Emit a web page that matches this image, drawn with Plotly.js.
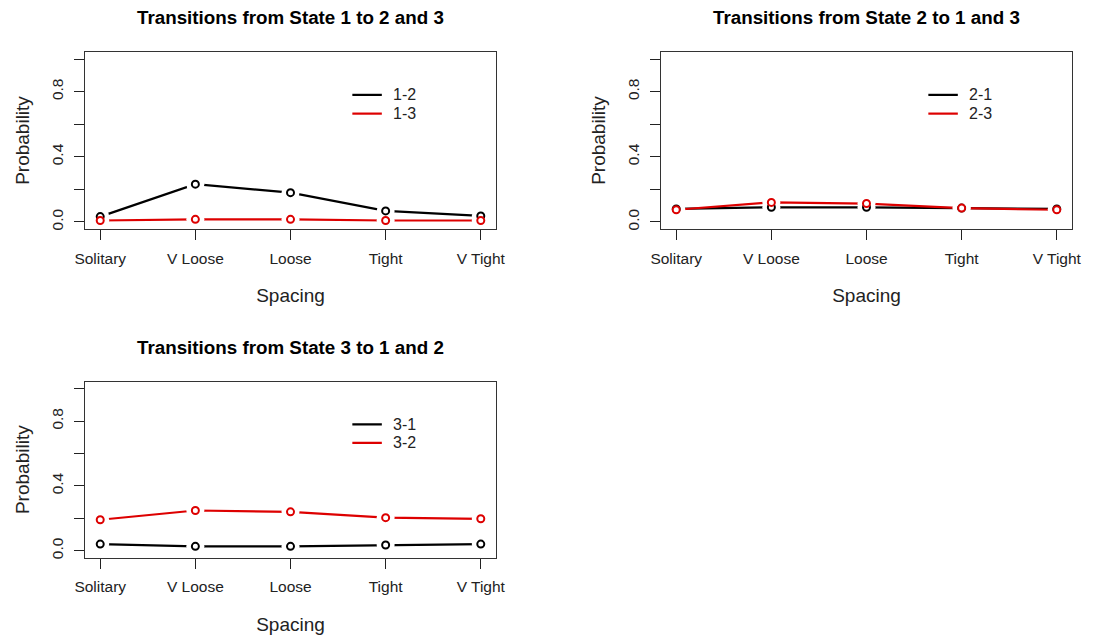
<!DOCTYPE html>
<html>
<head>
<meta charset="utf-8">
<script src="https://cdn.plot.ly/plotly-3.0.1.min.js"></script>
<style>html,body{margin:0;padding:0;background:#fff;}#plot{width:1097px;height:635px;}</style>
</head>
<body>
<div id="plot"></div>
<script>
// ---- data ----
const spacing = ["Solitary", "V Loose", "Loose", "Tight", "V Tight"];
const xIdx = [1, 2, 3, 4, 5];

const titles = ["Transitions from State 1 to 2 and 3",
                "Transitions from State 2 to 1 and 3",
                "Transitions from State 3 to 1 and 2"];

const p12 = [0.033, 0.232, 0.180, 0.068, 0.037];
const p13 = [0.009, 0.016, 0.016, 0.009, 0.009];
const p21 = [0.080, 0.090, 0.090, 0.085, 0.080];
const p23 = [0.075, 0.120, 0.113, 0.085, 0.075];
const p31 = [0.041, 0.027, 0.027, 0.035, 0.041];
const p32 = [0.191, 0.248, 0.240, 0.204, 0.197];

const seriesNames = [["1-2", "1-3"], ["2-1", "2-3"], ["3-1", "3-2"]];
const seriesVals = [[p12, p13], [p21, p23], [p31, p32]];

const yTickVals = [0, 0.2, 0.4, 0.6, 0.8, 1.0];
const yTickText = ["0.0", "", "0.4", "", "0.8", ""];

// ---- styling ----
const colors = ["#000000", "#dd0000"];
const font = "Liberation Sans, Arial, sans-serif";
const xRange = [0.84, 5.16];
const yRange = [-0.0432, 1.0432];
const panels = [
  {xd: [85/1097, 496/1097], yd: [1-229/635, 1-52/635]},
  {xd: [661/1097, 1072/1097], yd: [1-229/635, 1-52/635]},
  {xd: [85/1097, 496/1097], yd: [1-557.7/635, 1-381.7/635]}
];

const traces = [];
const layout = {
  width: 1097, height: 635,
  margin: {l: 0, r: 0, t: 0, b: 0},
  paper_bgcolor: "#fff", plot_bgcolor: "#fff",
  showlegend: false,
  font: {family: font, color: "#222"},
  annotations: [], shapes: []
};

panels.forEach((p, i) => {
  const n = i + 1, m = i + 4;
  const xa = n === 1 ? "x" : "x" + n;
  const ya = n === 1 ? "y" : "y" + n;
  const xk = n === 1 ? "xaxis" : "xaxis" + n;
  const yk = n === 1 ? "yaxis" : "yaxis" + n;
  const xo = "x" + m, yo = "y" + m;

  // connecting lines (base layer)
  seriesVals[i].forEach((vals, s) => {
    traces.push({type: "scatter", x: xIdx, y: vals, xaxis: xa, yaxis: ya, mode: "lines",
      line: {color: colors[s], width: 2.2}, hoverinfo: "skip", name: seriesNames[i][s]});
  });
  // overlay layer: white discs leave gaps around points (R type = "b"), then open circles
  seriesVals[i].forEach((vals, s) => {
    traces.push({type: "scatter", x: xIdx, y: vals, xaxis: xo, yaxis: yo, mode: "markers",
      marker: {symbol: "circle", size: 18, color: "#ffffff", opacity: 1, line: {width: 0}},
      hoverinfo: "skip", showlegend: false});
  });
  seriesVals[i].forEach((vals, s) => {
    traces.push({type: "scatter", x: xIdx, y: vals, xaxis: xo, yaxis: yo, mode: "markers",
      marker: {symbol: "circle", size: 7, color: "#fff", line: {color: colors[s], width: 2}},
      name: seriesNames[i][s], showlegend: false});
  });

  layout[xk] = {
    domain: p.xd, anchor: ya, range: xRange,
    tickvals: xIdx, ticktext: spacing, ticks: "outside", ticklen: 10, tickwidth: 1,
    tickcolor: "#222", showgrid: false, zeroline: false,
    showline: true, mirror: true, linecolor: "#333", linewidth: 1,
    tickfont: {size: 15.5, family: font, color: "#222"},
    ticklabelstandoff: 5,
    title: {text: "Spacing", font: {size: 19, family: font, color: "#222"}, standoff: 23}
  };
  layout[yk] = {
    domain: p.yd, anchor: xa, range: yRange,
    tickvals: yTickVals, ticktext: yTickText, ticks: "outside", ticklen: 10, tickwidth: 1,
    tickcolor: "#222", tickangle: -90, showgrid: false, zeroline: false,
    showline: true, mirror: true, linecolor: "#333", linewidth: 1,
    tickfont: {size: 15.5, family: font, color: "#222"},
    ticklabelstandoff: 5,
    title: {text: "Probability", font: {size: 19, family: font, color: "#222"}, standoff: 14}
  };
  layout["xaxis" + m] = {overlaying: xa, anchor: yo, range: xRange, visible: false,
    showgrid: false, zeroline: false};
  layout["yaxis" + m] = {overlaying: ya, anchor: xo, range: yRange, visible: false,
    showgrid: false, zeroline: false};

  // subplot title
  layout.annotations.push({
    text: "<b>" + titles[i] + "</b>", xref: "paper", yref: "paper",
    x: (p.xd[0] + p.xd[1]) / 2, y: p.yd[1] + 34/635, xanchor: "center", yanchor: "middle",
    showarrow: false, font: {size: 18.8, family: font, color: "#000"}
  });

  // legend (no box)
  const legY = [0.78, 0.665];
  seriesNames[i].forEach((nm, s) => {
    layout.shapes.push({type: "line", xref: xa, yref: ya, x0: 3.65, x1: 3.96,
      y0: legY[s], y1: legY[s], line: {color: colors[s], width: 2.2}});
    layout.annotations.push({text: nm, xref: xa, yref: ya, x: 4.06, y: legY[s],
      xanchor: "left", yanchor: "middle", showarrow: false,
      font: {size: 16, family: font, color: "#222"}});
  });
});

Plotly.newPlot("plot", traces, layout, {displayModeBar: false, staticPlot: true});
</script>
</body>
</html>
